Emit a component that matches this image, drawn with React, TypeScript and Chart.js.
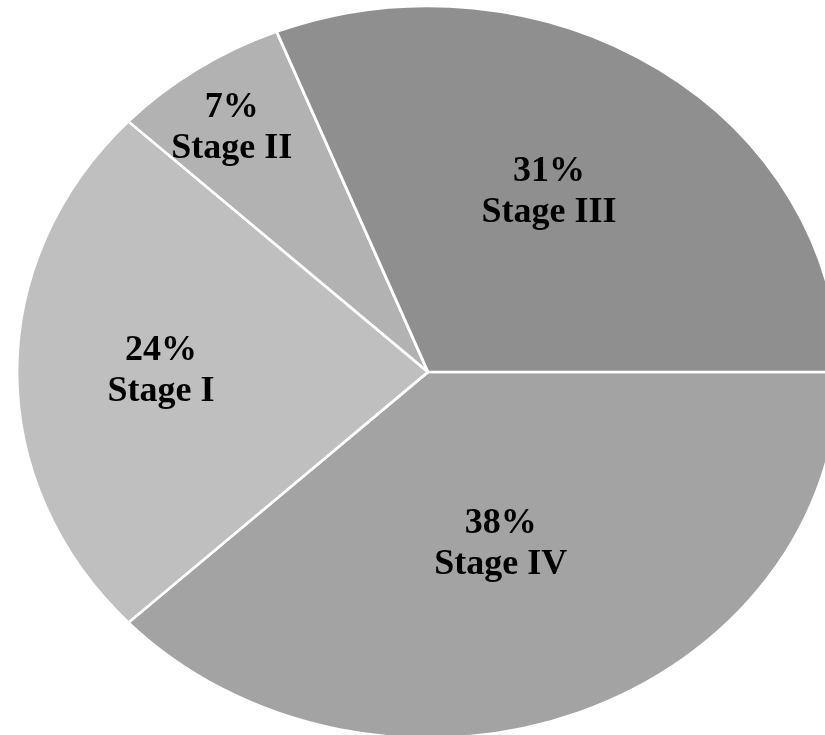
import React, { useEffect, useRef } from "react";
import { Chart, registerables } from "chart.js";

Chart.register(...registerables);

// Slices in clockwise order, starting at 3 o'clock
const stageLabels = ["Stage IV", "Stage I", "Stage II", "Stage III"];
const stagePercents = [38, 24, 7, 31];
const sliceColors = ["#a3a3a3", "#bfbfbf", "#b2b2b2", "#8f8f8f"];

// Ellipse the pie is stretched onto (page pixels)
const ELLIPSE = { cx: 428, cy: 372, rx: 411, ry: 366 };
// Label placement: fraction of the radius along the slice middle, plus a small turn in degrees
const labelReach = [0.49, 0.65, 0.83, 0.585];
const labelTurn = [0.4, 1.4, -0.9, -4];

const ellipsePlugin = {
  id: "ellipsePie",
  beforeDatasetsDraw(chart: any) {
    const arc = chart.getDatasetMeta(0).data[0];
    if (!arc) return;
    const { x, y, outerRadius } = arc;
    const ctx = chart.ctx;
    ctx.save();
    ctx.translate(ELLIPSE.cx, ELLIPSE.cy);
    ctx.scale(ELLIPSE.rx / outerRadius, ELLIPSE.ry / outerRadius);
    ctx.translate(-x, -y);
  },
  afterDatasetsDraw(chart: any) {
    chart.ctx.restore();
  },
  afterDraw(chart: any) {
    const ctx = chart.ctx;
    const arcs = chart.getDatasetMeta(0).data;
    ctx.save();
    ctx.fillStyle = "#000000";
    ctx.font = "bold 36px 'Liberation Serif', 'Times New Roman', serif";
    ctx.textAlign = "center";
    ctx.textBaseline = "alphabetic";
    arcs.forEach((arc: any, i: number) => {
      const mid = (arc.startAngle + arc.endAngle) / 2 + (labelTurn[i] * Math.PI) / 180;
      const f = labelReach[i];
      const lx = ELLIPSE.cx + f * ELLIPSE.rx * Math.cos(mid);
      const ly = ELLIPSE.cy + f * ELLIPSE.ry * Math.sin(mid);
      ctx.fillText(`${stagePercents[i]}%`, lx, ly - 6);
      ctx.fillText(stageLabels[i], lx, ly + 35);
    });
    ctx.restore();
  },
};

export default function App() {
  const canvasRef = useRef<HTMLCanvasElement | null>(null);

  useEffect(() => {
    if (!canvasRef.current) return;
    const chart = new Chart(canvasRef.current, {
      type: "pie",
      data: {
        labels: stageLabels,
        datasets: [
          {
            data: stagePercents,
            backgroundColor: sliceColors,
            borderColor: "#ffffff",
            borderWidth: 2.5,
            clip: false as any,
          },
        ],
      },
      options: {
        animation: false,
        responsive: true,
        maintainAspectRatio: false,
        rotation: 90,
        layout: { padding: 0 },
        plugins: {
          legend: { display: false },
          tooltip: { enabled: false },
        },
        events: [],
      },
      plugins: [ellipsePlugin],
    });
    return () => chart.destroy();
  }, []);

  return (
    <div
      style={{
        position: "fixed",
        left: 0,
        top: 0,
        width: 825,
        height: 735,
        overflow: "hidden",
        background: "#ffffff",
      }}
    >
      <canvas ref={canvasRef} />
    </div>
  );
}
